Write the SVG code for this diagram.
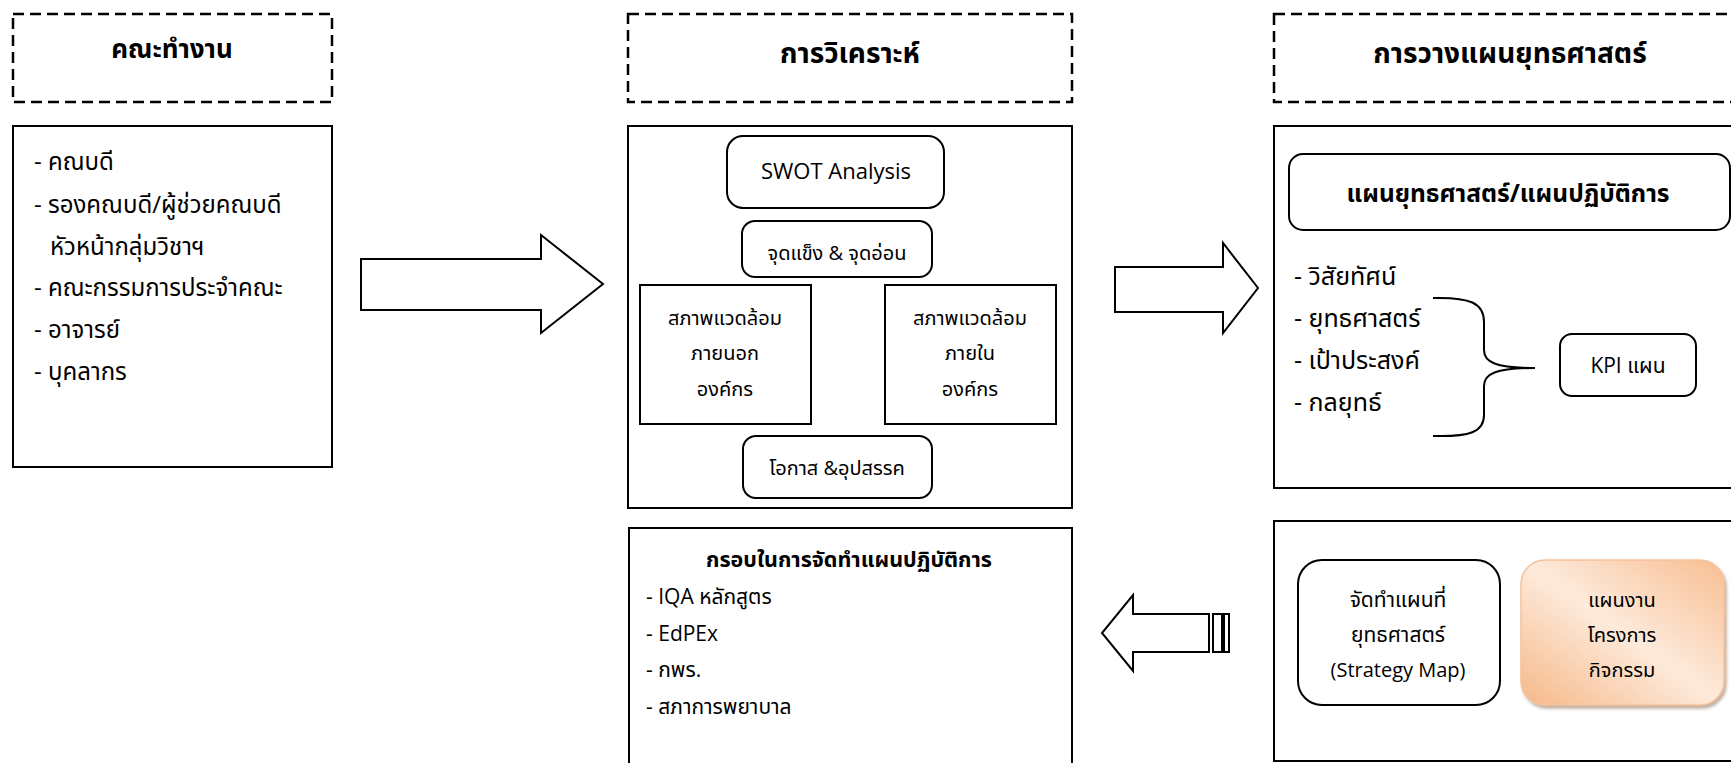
<svg xmlns="http://www.w3.org/2000/svg" width="1731" height="763" viewBox="0 0 1731 763">
<defs>
<style>
.t{font-family:"Open Sans","Noto Sans Thai","Noto Sans","DejaVu Sans",sans-serif;fill:#000;font-size:21px}
.c{text-anchor:middle}
.b{font-weight:bold}
.h{font-size:28px;font-weight:bold}
.l1{font-size:24px}
.l3{font-size:25px}
.m{font-size:20px}
.box{fill:#fff;stroke:#000;stroke-width:2}
.dash{fill:none;stroke:#000;stroke-width:2.5;stroke-dasharray:11 6}
.arrow{fill:#fff;stroke:#000;stroke-width:2;stroke-linejoin:miter}
.brace{fill:none;stroke:#000;stroke-width:2}
</style>
<linearGradient id="og" x1="1" y1="0" x2="0" y2="1">
<stop offset="0" stop-color="#F8BE92"/>
<stop offset="0.5" stop-color="#FDEADB"/>
<stop offset="1" stop-color="#F6B888"/>
</linearGradient>
<filter id="sh" x="-10%" y="-10%" width="130%" height="130%">
<feDropShadow dx="2" dy="3" stdDeviation="1.5" flood-color="#9a7a60" flood-opacity="0.6"/>
</filter>
</defs>
<rect width="1731" height="763" fill="#fff"/>

<g id="head-team">
<rect class="dash" x="13" y="14" width="319" height="88"/>
<text class="t c h" x="172" y="58" style="font-size:26px">คณะทำงาน</text>
</g>
<g id="team">
<rect class="box" x="13" y="126" width="319" height="341"/>
<text class="t l1" x="34" y="170">- คณบดี</text>
<text class="t l1" x="34" y="213">- รองคณบดี/ผู้ช่วยคณบดี</text>
<text class="t l1" x="50" y="255">หัวหน้ากลุ่มวิชาฯ</text>
<text class="t l1" x="34" y="296">- คณะกรรมการประจำคณะ</text>
<text class="t l1" x="34" y="338">- อาจารย์</text>
<text class="t l1" x="34" y="380">- บุคลากร</text>
</g>

<g id="head-analysis">
<rect class="dash" x="628" y="14" width="444" height="88"/>
<text class="t c h" x="850" y="63">การวิเคราะห์</text>
</g>
<g id="analysis">
<rect class="box" x="628" y="126" width="444" height="382"/>
<g id="swot">
<rect class="box" x="727" y="136" width="217" height="72" rx="16"/>
<text class="t c" x="836" y="179" style="font-size:22px">SWOT Analysis</text>
</g>
<g id="strength">
<rect class="box" x="742" y="221" width="190" height="56" rx="13"/>
<text class="t c m" x="837" y="260">จุดแข็ง &amp; จุดอ่อน</text>
</g>
<g id="external">
<rect class="box" x="640" y="285" width="171" height="139"/>
<text class="t c m" x="725" y="325">สภาพแวดล้อม</text>
<text class="t c m" x="725" y="360">ภายนอก</text>
<text class="t c m" x="725" y="396">องค์กร</text>
</g>
<g id="internal">
<rect class="box" x="885" y="285" width="171" height="139"/>
<text class="t c m" x="970" y="325">สภาพแวดล้อม</text>
<text class="t c m" x="970" y="360">ภายใน</text>
<text class="t c m" x="970" y="396">องค์กร</text>
</g>
<g id="opportunity">
<rect class="box" x="743" y="436" width="189" height="62" rx="13"/>
<text class="t c m" x="837" y="475">โอกาส &amp;อุปสรรค</text>
</g>
</g>

<g id="head-planning">
<rect class="dash" x="1274" y="14" width="470" height="88"/>
<text class="t c h" x="1510" y="63">การวางแผนยุทธศาสตร์</text>
</g>
<g id="planning">
<rect class="box" x="1274" y="126" width="470" height="362"/>
<g id="strategic-plan">
<rect class="box" x="1289" y="154" width="441" height="76" rx="14"/>
<text class="t c b" x="1508" y="202" style="font-size:24.5px">แผนยุทธศาสตร์/แผนปฏิบัติการ</text>
</g>
<text class="t l3" x="1294" y="285">- วิสัยทัศน์</text>
<text class="t l3" x="1294" y="327">- ยุทธศาสตร์</text>
<text class="t l3" x="1294" y="369">- เป้าประสงค์</text>
<text class="t l3" x="1294" y="411">- กลยุทธ์</text>
<g id="kpi">
<rect class="box" x="1560" y="334" width="136" height="62" rx="12"/>
<text class="t c" x="1628" y="373">KPI แผน</text>
</g>
</g>

<g id="framework">
<rect class="box" x="629" y="528" width="443" height="250"/>
<text class="t c b" x="849" y="567" style="font-size:21.5px">กรอบในการจัดทำแผนปฏิบัติการ</text>
<text class="t" x="646" y="604">- IQA หลักสูตร</text>
<text class="t" x="646" y="641">- EdPEx</text>
<text class="t" x="646" y="677">- กพร.</text>
<text class="t" x="646" y="714">- สภาการพยาบาล</text>
</g>

<g id="implementation">
<rect class="box" x="1274" y="521" width="470" height="240"/>
<g id="strategy-map">
<rect class="box" x="1298" y="560" width="202" height="145" rx="24"/>
<text class="t c" x="1398" y="607">จัดทำแผนที่</text>
<text class="t c" x="1398" y="642">ยุทธศาสตร์</text>
<text class="t c m" x="1398" y="677">(Strategy Map)</text>
</g>
<g id="projects">
<rect x="1521" y="560" width="203" height="145" rx="24" fill="url(#og)" stroke="#F6C29A" stroke-width="1.5" filter="url(#sh)"/>
<text class="t c m" x="1622" y="607">แผนงาน</text>
<text class="t c m" x="1622" y="642">โครงการ</text>
<text class="t c m" x="1622" y="677">กิจกรรม</text>
</g>
</g>

<g id="connectors">
<polygon class="arrow" points="361,259 541,259 541,235 603,284 541,333 541,310 361,310"/>
<polygon class="arrow" points="1115,267 1223,267 1223,243 1258,288 1223,333 1223,312 1115,312"/>
<polygon class="arrow" points="1209,614 1133,614 1133,595 1102,633 1133,671 1133,652 1209,652"/>
<rect class="arrow" x="1213" y="614" width="9" height="38"/>
<rect class="arrow" x="1224" y="614" width="5" height="38"/>
<path class="brace" d="M1433,298 C1470,297 1484,303 1484,322 L1484,350 C1484,362 1495,368 1535,368 C1495,368 1484,374 1484,386 L1484,415 C1484,432 1470,437 1433,436"/>
</g>
</svg>
